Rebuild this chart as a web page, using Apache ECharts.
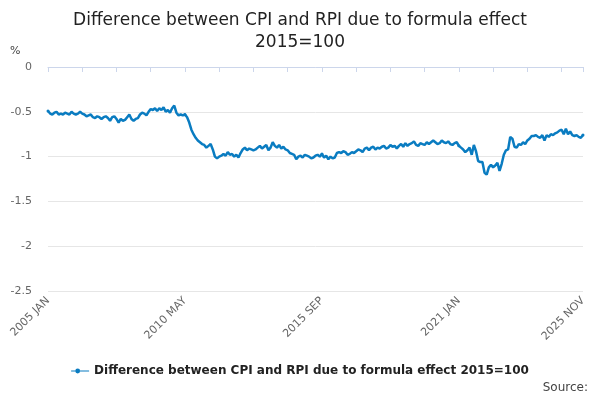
<!DOCTYPE html>
<html><head><meta charset="utf-8">
<script src="https://cdn.jsdelivr.net/npm/echarts@6/dist/echarts.min.js"></script>
<style>html,body{margin:0;padding:0}#chart{width:600px;height:400px}</style>
</head><body><div id="chart"></div>
<script>
var monthNames = ['JAN','FEB','MAR','APR','MAY','JUN','JUL','AUG','SEP','OCT','NOV','DEC'];
var categories = [];
for (var y = 2005; y <= 2025; y++) {
    for (var m = 0; m < 12; m++) {
        if (y == 2025 && m > 10) break;
        categories.push(y + ' ' + monthNames[m]);
    }
}
var values = [
    -0.49,-0.52,-0.53,-0.51,-0.50,-0.53,-0.52,-0.53,-0.51,-0.52,-0.53,-0.50,
    -0.52,-0.53,-0.52,-0.50,-0.52,-0.53,-0.55,-0.54,-0.53,-0.56,-0.57,-0.55,
    -0.56,-0.58,-0.56,-0.55,-0.57,-0.60,-0.56,-0.55,-0.58,-0.62,-0.58,-0.60,
    -0.59,-0.56,-0.53,-0.58,-0.60,-0.58,-0.57,-0.53,-0.51,-0.52,-0.54,-0.50,
    -0.47,-0.48,-0.46,-0.49,-0.46,-0.48,-0.45,-0.50,-0.48,-0.51,-0.46,-0.43,
    -0.51,-0.54,-0.53,-0.54,-0.53,-0.56,-0.62,-0.70,-0.75,-0.79,-0.82,-0.84,
    -0.86,-0.87,-0.90,-0.88,-0.86,-0.92,-1.00,-1.02,-1.00,-0.99,-0.97,-0.99,
    -0.95,-0.98,-0.97,-1.00,-0.98,-1.01,-0.96,-0.92,-0.90,-0.93,-0.91,-0.92,
    -0.93,-0.92,-0.90,-0.88,-0.91,-0.89,-0.87,-0.93,-0.90,-0.84,-0.88,-0.90,
    -0.87,-0.91,-0.89,-0.92,-0.93,-0.96,-0.97,-0.98,-1.03,-1.00,-0.99,-1.01,
    -0.98,-0.99,-1.00,-1.02,-1.01,-0.99,-0.98,-1.00,-0.97,-1.01,-0.99,-1.03,
    -1.00,-1.02,-1.01,-0.96,-0.95,-0.96,-0.94,-0.95,-0.98,-0.97,-0.95,-0.96,
    -0.94,-0.92,-0.93,-0.95,-0.91,-0.90,-0.93,-0.90,-0.89,-0.92,-0.90,-0.91,
    -0.89,-0.88,-0.91,-0.90,-0.87,-0.89,-0.88,-0.91,-0.88,-0.86,-0.89,-0.85,
    -0.88,-0.86,-0.85,-0.83,-0.87,-0.88,-0.85,-0.86,-0.87,-0.84,-0.86,-0.84,
    -0.82,-0.84,-0.86,-0.85,-0.82,-0.84,-0.85,-0.83,-0.86,-0.87,-0.85,-0.84,
    -0.88,-0.90,-0.92,-0.95,-0.93,-0.90,-0.98,-0.87,-0.94,-1.05,-1.06,-1.06,
    -1.18,-1.20,-1.12,-1.09,-1.12,-1.10,-1.07,-1.16,-1.08,-0.98,-0.93,-0.92,
    -0.78,-0.80,-0.89,-0.90,-0.86,-0.87,-0.84,-0.86,-0.82,-0.80,-0.77,-0.77,
    -0.76,-0.78,-0.79,-0.76,-0.82,-0.76,-0.78,-0.75,-0.76,-0.74,-0.73,-0.71,
    -0.70,-0.75,-0.69,-0.75,-0.72,-0.76,-0.77,-0.76,-0.78,-0.79,-0.76
];
var seriesName = 'Difference between CPI and RPI due to formula effect 2015=100';
var last = categories.length - 1;

var chart = echarts.init(document.getElementById('chart'));
chart.setOption({
    animation: false,
    title: {
        text: 'Difference between CPI and RPI due to formula effect\n2015=100',
        left: 'center', top: 5,
        textStyle: {fontFamily: 'DejaVu Sans', fontSize: 17, fontWeight: 'normal', color: '#222', lineHeight: 22}
    },
    graphic: [
        {type: 'text', left: 10, top: 46, style: {text: '%', font: '11px DejaVu Sans', fill: '#444'}},
        {type: 'text', right: 12, top: 382, style: {text: 'Source:', font: '12px DejaVu Sans', fill: '#444'}}
    ],
    legend: {
        bottom: 18, left: 'center', data: [seriesName],
        icon: 'path://M0,4 L30,4 L30,6 L0,6 Z M11,1 A4,4 0 1 1 11,9 A4,4 0 1 1 11,1 Z',
        itemWidth: 18, itemHeight: 6,
        textStyle: {fontFamily: 'DejaVu Sans', fontSize: 12, fontWeight: 'bold', color: '#222'}
    },
    grid: {left: 48, right: 17, top: 67, bottom: 109},
    xAxis: {
        type: 'category', data: categories, boundaryGap: false,
        axisLine: {lineStyle: {color: '#ccd6eb'}},
        axisTick: {interval: function (i) { return i % 16 == 0 || i == last; }, lineStyle: {color: '#ccd6eb'}},
        axisLabel: {
            interval: function (i) { return i % 64 == 0 || i == last; },
            rotate: 45, color: '#666', fontFamily: 'DejaVu Sans', fontSize: 11
        }
    },
    yAxis: {
        type: 'value', min: -2.5, max: 0, interval: 0.5,
        axisLine: {show: false}, axisTick: {show: false},
        axisLabel: {color: '#666', fontFamily: 'DejaVu Sans', fontSize: 11, margin: 16},
        splitLine: {lineStyle: {color: '#e6e6e6'}}
    },
    series: [{
        name: seriesName, type: 'line', data: values,
        symbol: 'circle', symbolSize: 3, showSymbol: true,
        lineStyle: {color: '#0a7cc1', width: 2.5},
        itemStyle: {color: '#0a7cc1'}
    }]
});
</script></body></html>
